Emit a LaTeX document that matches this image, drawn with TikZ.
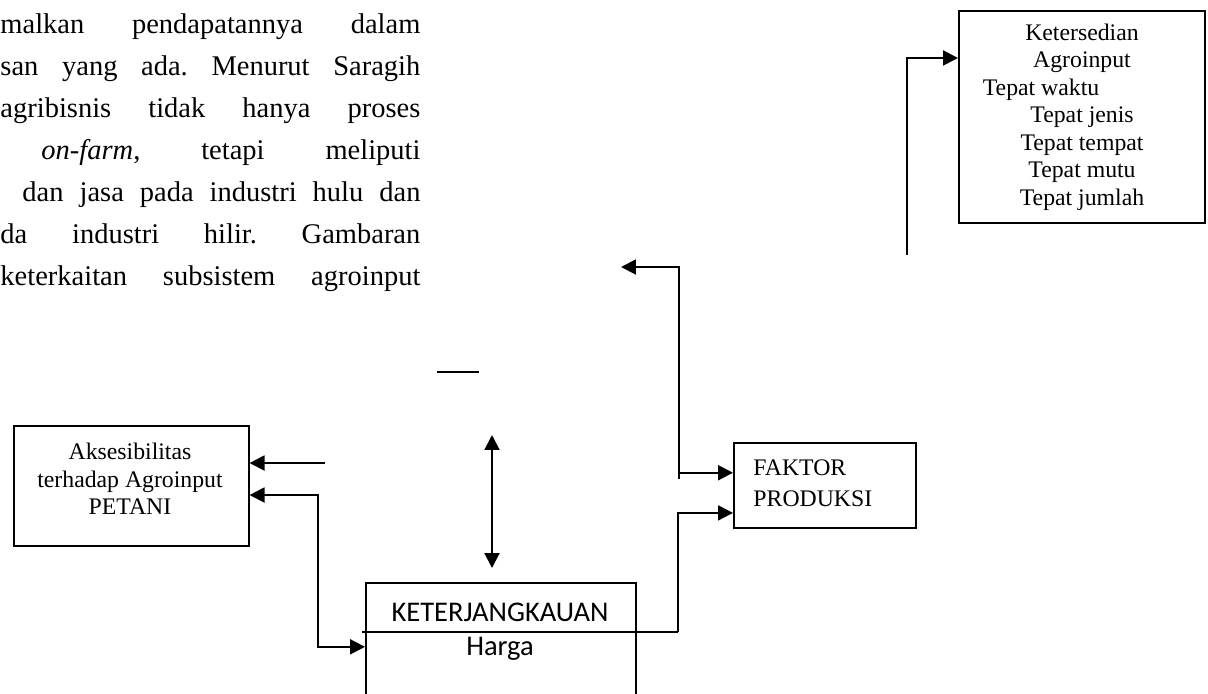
\documentclass[tikz,border=0pt]{standalone}
\usepackage{fontspec}
\setmainfont{Liberation Serif}
\newfontfamily\calibrifont{Carlito}
\usepackage{tikz}
\usetikzlibrary{positioning,arrows.meta}
\frenchspacing

\tikzset{
  box/.style={draw, line width=0.7pt, inner sep=0pt, anchor=north west},
  conn/.style={line width=0.85pt, -{Triangle[length=6.3pt,width=6.3pt]}},
  dconn/.style={line width=0.85pt, {Triangle[length=6.3pt,width=6.3pt]}-{Triangle[length=6.3pt,width=6.3pt]}},
  small/.style={font=\fontsize{10}{11.6}\selectfont, inner sep=0pt},
  para/.style={anchor=base west, inner sep=0pt, font=\fontsize{12}{14}\selectfont}
}

\begin{document}
\begin{tikzpicture}[x=0.42105pt, y=-0.42105pt]
\useasboundingbox (0,0) rectangle (1208,693);

% paragraph text behind the figure
\node[para] (p1) at (0,33)   {\makebox[176.8pt][s]{malkan pendapatannya dalam}};
\node[para] (p2) at (0,75)   {\makebox[176.8pt][s]{san yang ada. Menurut Saragih}};
\node[para] (p3) at (0,117)  {\makebox[176.8pt][s]{agribisnis tidak hanya proses}};
\node[para] (p4) at (41,159) {\makebox[159.6pt][s]{\textit{on-farm}, tetapi meliputi}};
\node[para] (p5) at (22,201) {\makebox[167.6pt][s]{dan jasa pada industri hulu dan}};
\node[para] (p6) at (0,243)  {\makebox[176.8pt][s]{da industri hilir. Gambaran}};
\node[para] (p7) at (0,285)  {\makebox[176.8pt][s]{keterkaitan subsistem agroinput}};

% boxes
\node[box, minimum width=103.6pt, minimum height=89.3pt] (ket) at (958,10) {};
\node[small, align=center] (kettext) at (1082,117)
  {Ketersedian\\Agroinput\\Tepat waktu\rule{34.5pt}{0pt}\\Tepat jenis\\Tepat tempat\\Tepat mutu\\Tepat jumlah};

\node[box, minimum width=98.9pt, minimum height=50.5pt] (akses) at (13,425) {};
\node[small, align=center] (aksestext) at (130,479)
  {Aksesibilitas\\terhadap Agroinput\\PETANI};

\node[box, minimum width=76.6pt, minimum height=35.8pt] (faktor) at (733,442) {};
\node[small, align=left, anchor=west, font=\fontsize{10}{13}\selectfont] (faktortext) at (753,483)
  {FAKTOR\\PRODUKSI};

\node[box, minimum width=113.7pt, minimum height=53.9pt] (kj) at (365,582) {};
\node[inner sep=0pt, font=\calibrifont\fontsize{12}{14}\selectfont] (kjtext) at (500,612) {KETERJANGKAUAN};
\node[inner sep=0pt, font=\calibrifont\fontsize{12}{14}\selectfont] (kjharga) at (500,649) {Harga};

% free ends
\coordinate (k0) at (907,255);
\coordinate (u0) at (679,479);
\coordinate (u1) at (621,267);
\coordinate (f1) at ([yshift=5.3pt]faktor.west);
\coordinate (f2) at ([yshift=-11.6pt]faktor.west);
\coordinate (kjl) at (362,632);
\coordinate (kjr) at (678,632);
\coordinate (a1) at (325,463);
\coordinate (a2) at (318,495);
\coordinate (v0) at (492,435);
\coordinate (v1) at (492,568);
\coordinate (d0) at (437,372);
\coordinate (d1) at (479,372);

% connectors
\draw[conn] (k0) |- ([yshift=24.8pt]ket.west);
\draw[conn] (u0) |- (u1);
\draw[conn] (u0 |- f1) -- (f1);
\draw[line width=0.6pt] (kjl) -- (kjr);
\draw[conn] (kjr) |- (f2);
\draw[conn] (a1) -- (akses.east |- a1);
\draw[dconn] (akses.east |- a2) -- (a2) |- (kj.west);
\draw[dconn] (v0) -- (v1);
\draw[line width=0.6pt] (d0) -- (d1);
\end{tikzpicture}
\end{document}
